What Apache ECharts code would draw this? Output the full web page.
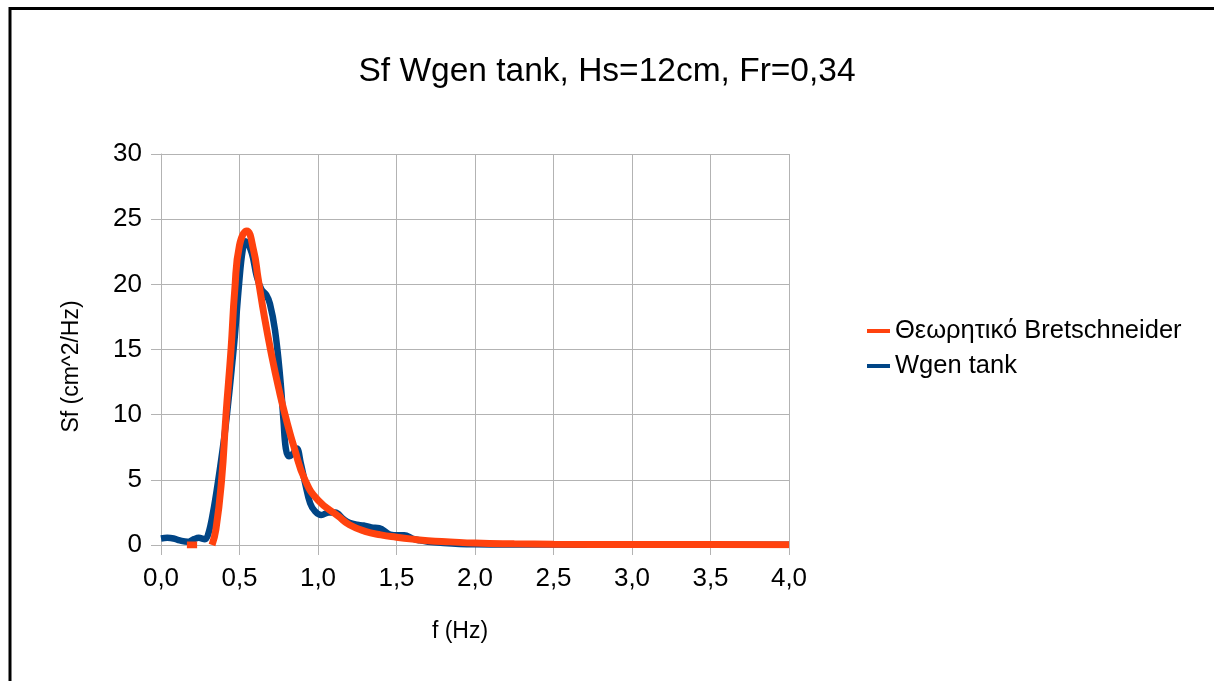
<!DOCTYPE html>
<html>
<head>
<meta charset="utf-8">
<script src="https://cdn.jsdelivr.net/npm/echarts@6/dist/echarts.min.js"></script>
<style>
html,body{margin:0;padding:0;background:#fff;}
#chart{width:1214px;height:681px;}
</style>
</head>
<body>
<div id="chart"></div>
<script>
const titleText = 'Sf Wgen tank, Hs=12cm, Fr=0,34';
const xAxisName = 'f (Hz)';
const yAxisName = 'Sf (cm^2/Hz)';
const seriesNames = ['Θεωρητικό Bretschneider', 'Wgen tank'];
const xTicks = [0, 0.5, 1, 1.5, 2, 2.5, 3, 3.5, 4];
const yTicks = [0, 5, 10, 15, 20, 25, 30];

// Wgen tank (measured)
const wgenF = [0, 0.04, 0.08, 0.12, 0.17, 0.21, 0.24, 0.28, 0.30, 0.33, 0.365, 0.40, 0.42, 0.45, 0.47, 0.497, 0.52, 0.54, 0.578, 0.61, 0.64, 0.67, 0.694, 0.726, 0.758, 0.78, 0.795, 0.815, 0.84, 0.865, 0.89, 0.917, 0.95, 0.98, 1.02, 1.07, 1.11, 1.16, 1.20, 1.25, 1.29, 1.34, 1.39, 1.46, 1.51, 1.55, 1.60, 1.65, 1.70, 1.80, 1.90, 2.0, 2.2, 2.5, 3.0, 3.5, 4.0];
const wgenS = [0.5, 0.55, 0.5, 0.35, 0.25, 0.45, 0.55, 0.45, 0.8, 2.4, 5.0, 8.0, 10.0, 13.5, 16.0, 20.0, 22.6, 23.3, 22.4, 20.6, 19.6, 19.2, 18.5, 16.5, 13.0, 9.6, 7.4, 6.8, 7.0, 7.4, 6.3, 4.8, 3.2, 2.6, 2.3, 2.5, 2.5, 2.0, 1.7, 1.55, 1.5, 1.35, 1.3, 0.8, 0.75, 0.75, 0.5, 0.35, 0.25, 0.15, 0.08, 0.05, 0.04, 0.03, 0.02, 0.01, 0.01];

// Theoretical Bretschneider (null marks a gap)
const bretF = [0.165, 0.23, 0.27, 0.325, 0.35, 0.386, 0.414, 0.446, 0.47, 0.50, 0.546, 0.59, 0.618, 0.66, 0.709, 0.75, 0.79, 0.85, 0.917, 1.0, 1.13, 1.2, 1.3, 1.4, 1.5, 1.6, 1.7, 1.84, 2.0, 2.25, 2.5, 3.0, 3.5, 4.0];
const bretS = [0, 0, null, 0, 1.2, 5.0, 10.0, 15.0, 19.6, 23.0, 24.1, 22.6, 20.5, 17.4, 14.3, 12.0, 10.0, 7.4, 5.0, 3.45, 2.2, 1.55, 1.05, 0.78, 0.6, 0.45, 0.33, 0.24, 0.15, 0.09, 0.06, 0.04, 0.03, 0.02];

const FONT = '"Liberation Sans", Arial, sans-serif';
const chart = echarts.init(document.getElementById('chart'), null, {renderer: 'canvas'});

const pair = (xs, ys) => xs.map((x, i) => [x, ys[i] === null ? '-' : ys[i]]);

chart.setOption({
  animation: false,
  backgroundColor: '#ffffff',
  title: {
    text: titleText,
    left: 'center',
    top: 50,
    textStyle: {fontFamily: FONT, fontSize: 33.5, fontWeight: 'normal', color: '#000'}
  },
  legend: {
    data: [seriesNames[0], seriesNames[1]],
    orient: 'vertical',
    left: 862,
    top: 313,
    itemWidth: 23,
    itemHeight: 4,
    itemGap: 9,
    icon: 'rect',
    textStyle: {fontFamily: FONT, fontSize: 25.5, color: '#000', lineHeight: 26}
  },
  grid: {left: 161, top: 154, width: 628, height: 391, containLabel: false},
  xAxis: {
    type: 'value',
    min: 0, max: 4, interval: 0.5,
    name: xAxisName,
    nameLocation: 'middle',
    nameGap: 75,
    nameTextStyle: {fontFamily: FONT, fontSize: 23, color: '#000', padding: [0, 30, 0, 0]},
    axisLine: {show: true, lineStyle: {color: '#b3b3b3', width: 1}},
    axisTick: {show: true, length: 10, lineStyle: {color: '#b3b3b3'}},
    axisLabel: {
      fontFamily: FONT, fontSize: 26, color: '#000', margin: 21,
      formatter: v => (xTicks.includes(v) ? v.toFixed(1).replace('.', ',') : '')
    },
    splitLine: {show: true, lineStyle: {color: '#b3b3b3', width: 1}}
  },
  yAxis: {
    type: 'value',
    min: 0, max: 30, interval: 5,
    name: yAxisName,
    nameLocation: 'middle',
    nameGap: 78,
    nameRotate: 90,
    nameTextStyle: {fontFamily: FONT, fontSize: 23, color: '#000', padding: [0, 34, 0, 0]},
    axisLine: {show: true, lineStyle: {color: '#b3b3b3', width: 1}},
    axisTick: {show: true, length: 10, lineStyle: {color: '#b3b3b3'}},
    axisLabel: {
      fontFamily: FONT, fontSize: 26, color: '#000', margin: 19,
      formatter: v => (yTicks.includes(v) ? String(v) : '')
    },
    splitLine: {show: true, lineStyle: {color: '#b3b3b3', width: 1}}
  },
  series: [
    {
      name: seriesNames[1],
      type: 'line',
      data: pair(wgenF, wgenS),
      showSymbol: false,
      smooth: 0.4,
      lineStyle: {color: '#004586', width: 6.5},
      itemStyle: {color: '#004586'},
      z: 2
    },
    {
      name: seriesNames[0],
      type: 'line',
      data: pair(bretF, bretS),
      showSymbol: false,
      connectNulls: false,
      smooth: 0.5,
      lineStyle: {color: '#ff420e', width: 7},
      itemStyle: {color: '#ff420e'},
      z: 3
    }
  ],
  graphic: [
    {
      type: 'rect',
      silent: true,
      shape: {x: 10, y: 8.5, width: 1400, height: 1000},
      style: {fill: 'none', stroke: '#000', lineWidth: 3},
      z: 100
    }
  ]
});
</script>
</body>
</html>
